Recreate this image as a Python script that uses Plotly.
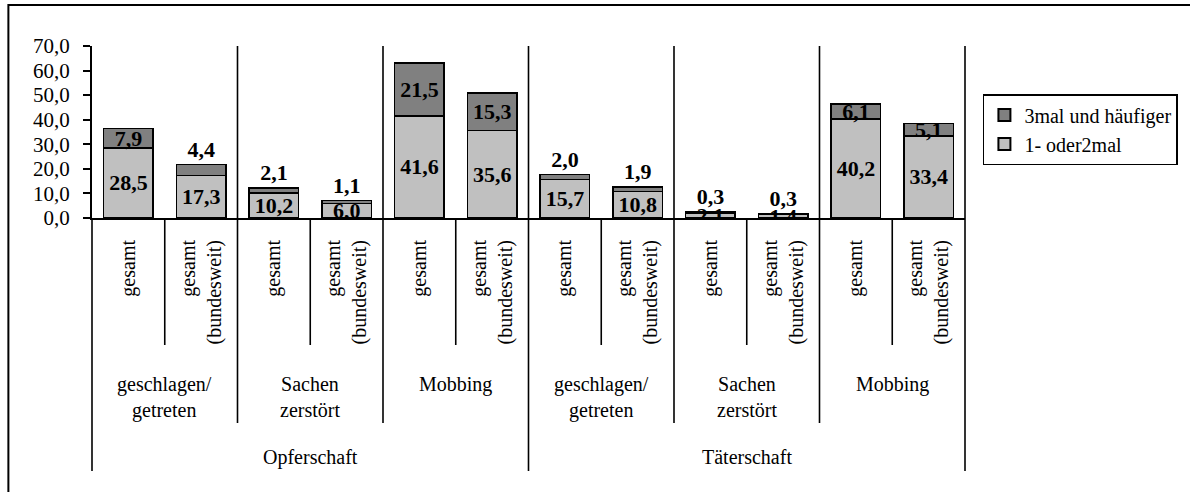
import plotly.graph_objects as go

# ---- data ----
roles = ["Opferschaft", "Täterschaft"]
acts = ["geschlagen/<br>getreten", "Sachen<br>zerstört", "Mobbing"]
scopes = ["gesamt", "gesamt<br>(bundesweit)"]
series_names = ["1- oder2mal", "3mal und häufiger"]
once_twice = [28.5, 17.3, 10.2, 6.0, 41.6, 35.6, 15.7, 10.8, 2.1, 1.4, 40.2, 33.4]
three_plus = [7.9, 4.4, 2.1, 1.1, 21.5, 15.3, 2.0, 1.9, 0.3, 0.3, 6.1, 5.1]
y_ticks = [0, 10, 20, 30, 40, 50, 60, 70]

# ---- styles ----
LIGHT = "#C0C0C0"
DARK = "#808080"
FONT = "Liberation Serif"
dark_label_pos = ["inside", "outside", "outside", "outside", "inside", "inside",
                  "outside", "outside", "outside", "outside", "inside", "inside"]

n = len(once_twice)
xs = list(range(n))
per_group = len(scopes)
per_role = len(acts) * per_group
label_font = dict(family=FONT, size=22, color="black")
text_font = dict(family=FONT, size=20, color="black")

Y_MAX = 70
PLOT_H = 172.0                     # px height of the value area

fig = go.Figure()
fig.add_trace(go.Bar(
    x=xs, y=once_twice, name=series_names[0],
    marker=dict(color=LIGHT, line=dict(color="black", width=1.5)),
    texttemplate="<b>%{y:.1f}</b>", textposition="inside", insidetextanchor="middle",
    textangle=0, constraintext="none", textfont=label_font, insidetextfont=label_font,
    hoverinfo="skip",
))
fig.add_trace(go.Bar(
    x=xs, y=three_plus, name=series_names[1],
    marker=dict(color=DARK, line=dict(color="black", width=1.5)),
    texttemplate="<b>%{y:.1f}</b>", textposition=dark_label_pos, insidetextanchor="middle",
    textangle=0, constraintext="none", textfont=label_font, insidetextfont=label_font,
    outsidetextfont=label_font, cliponaxis=False,
    hoverinfo="skip",
))

def py(px_below_axis):
    return -px_below_axis / PLOT_H

shapes = []
LW = 1.6
for i in range(n):
    xd = (i + 1) / n
    if (i + 1) % per_role == 0:
        y0, y1 = py(253), 1
    elif (i + 1) % per_group == 0:
        y0, y1 = py(205), 1
    else:
        y0, y1 = py(127), 0
    shapes.append(dict(type="line", xref="x domain", yref="paper", x0=xd, x1=xd, y0=y0, y1=y1,
                       line=dict(color="black", width=LW)))
shapes.append(dict(type="line", xref="x domain", yref="paper", x0=0, x1=0, y0=py(253), y1=0,
                   line=dict(color="black", width=LW)))
shapes.append(dict(type="rect", xref="paper", yref="paper", x0=-84 / 877, x1=1.3, y0=-1.7,
                   y1=(218 - 5) / PLOT_H, line=dict(color="black", width=2)))

annotations = []
for r, role in enumerate(roles):
    for a, act in enumerate(acts):
        center = r * per_role + a * per_group + (per_group - 1) / 2
        annotations.append(dict(x=center, xref="x", y=0, yref="paper", yshift=-153, text=act,
                                showarrow=False, xanchor="center", yanchor="top",
                                font=text_font, align="center"))
    center = r * per_role + (per_role - 1) / 2
    annotations.append(dict(x=center, xref="x", y=0, yref="paper", yshift=-239, text=role,
                            showarrow=False, xanchor="center", yanchor="middle", font=text_font))

fig.update_layout(
    width=1190, height=492,
    margin=dict(l=92, r=221, t=46, b=274),
    barmode="stack", bargap=0.32,
    separators=",.",
    plot_bgcolor="white", paper_bgcolor="white",
    font=dict(family=FONT, size=20, color="black"),
    xaxis=dict(range=[-0.5, n - 0.5], tickvals=xs, ticktext=[scopes[i % per_group] for i in xs],
               tickangle=-90, ticks="", ticklabelstandoff=12,
               tickfont=text_font, showgrid=False, zeroline=False,
               showline=True, linecolor="black", linewidth=2),
    yaxis=dict(range=[0, Y_MAX], tickvals=y_ticks, tickformat=".1f", showgrid=False, zeroline=False,
               showline=True, linecolor="black", linewidth=2, ticks="outside", ticklen=7,
               tickwidth=1.5, tickcolor="black", ticklabelstandoff=9,
               tickfont=dict(family=FONT, size=21, color="black")),
    legend=dict(x=(987 - 92) / 877, y=(218 - 94) / PLOT_H, xanchor="left", yanchor="top",
                traceorder="reversed", bordercolor="black", borderwidth=1.5,
                font=dict(family=FONT, size=20, color="black"), bgcolor="white",
                tracegroupgap=0, itemsizing="constant"),
    shapes=shapes,
    annotations=annotations,
    showlegend=True,
)

fig.write_html("out.html", config={"displayModeBar": False},
               post_script="document.body.style.margin='0';document.body.style.padding='0';")
